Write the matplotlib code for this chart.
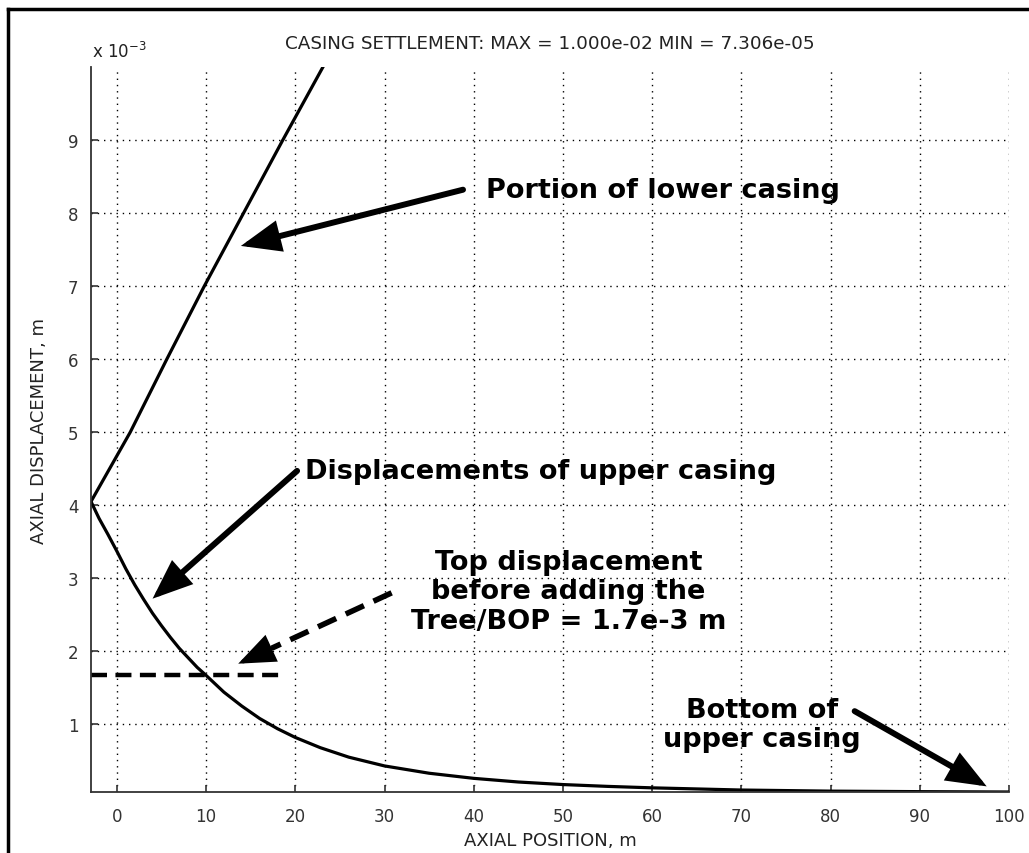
import matplotlib
matplotlib.use("Agg")
import matplotlib.pyplot as plt
from matplotlib.lines import Line2D

# ---------------- data (axial displacement in units of 1e-3 m) ----------------
upper_x = [-2.9, -2, -1, 0, 1, 2, 3, 4, 5, 6, 7, 8, 9, 10, 12, 14, 16, 18, 20,
           22.8, 26, 30, 35, 40, 45, 50, 55, 60, 70, 80, 90, 100]
upper_y = [4.05, 3.82, 3.60, 3.37, 3.13, 2.91, 2.71, 2.52, 2.35, 2.19, 2.04,
           1.91, 1.78, 1.67, 1.44, 1.25, 1.08, 0.94, 0.82, 0.68, 0.55, 0.43,
           0.33, 0.26, 0.21, 0.175, 0.15, 0.13, 0.10, 0.085, 0.078, 0.073]
lower_x = [-2.9, 1.5, 5.6, 9.8, 14.2, 18.6, 23.1]
lower_y = [4.05, 5, 6, 7, 8, 9, 10]
top_disp_x = [-2.9, 18.4]
top_disp_y = 1.67
x_ticks = [0, 10, 20, 30, 40, 50, 60, 70, 80, 90, 100]
y_ticks = [1, 2, 3, 4, 5, 6, 7, 8, 9]
x_lim = (-2.9, 100)
y_lim = (0.07306, 10.0)
title_text = "CASING SETTLEMENT: MAX = 1.000e-02 MIN = 7.306e-05"
x_label = "AXIAL POSITION, m"
y_label = "AXIAL DISPLACEMENT, m"

# annotations: (text, text_xy, ha, tail_xy, tip_xy, dashed)
notes = [
    ("Portion of lower casing", (41.4, 8.32), "left", (38.8, 8.32), (13.9, 7.55), False),
    ("Displacements of upper casing", (21.1, 4.47), "left", (20.2, 4.47), (4.0, 2.72), False),
    ("Top displacement\nbefore adding the\nTree/BOP = 1.7e-3 m", (50.6, 2.82), "center",
     (30.8, 2.80), (13.6, 1.83), True),
    ("Bottom of\nupper casing", (72.3, 1.0), "center", (82.7, 1.18), (97.5, 0.15), False),
]

W, H = 1029, 854
fig = plt.figure(figsize=(W / 100, H / 100), dpi=100)
ax = fig.add_axes([91 / W, 1 - 793 / H, (1009 - 91) / W, (793 - 68) / H])

ax.plot(upper_x, upper_y, color="k", lw=2.3, solid_joinstyle="round")
ax.plot(lower_x, lower_y, color="k", lw=2.3, solid_joinstyle="round")
ax.plot(top_disp_x, [top_disp_y] * 2, color="k", lw=3.2, dashes=(3.6, 1.9))

ax.set_xlim(*x_lim)
ax.set_ylim(*y_lim)
ax.set_xticks(x_ticks)
ax.set_yticks(y_ticks)
ax.grid(True, color="k", linestyle=(0, (1, 3.5)), lw=1.0)
ax.set_axisbelow(True)
for s in ("top", "right"):
    ax.spines[s].set_visible(False)
for s in ("left", "bottom"):
    ax.spines[s].set_color("#333333")
    ax.spines[s].set_linewidth(1.3)
ax.tick_params(direction="in", length=5, width=1.2, colors="#333333",
               labelsize=12, pad=9)
ax.tick_params(axis="x", pad=11)

ax.set_xlabel(x_label, fontsize=13, color="#222222", labelpad=4)
ax.set_ylabel(y_label, fontsize=13, color="#222222", labelpad=14)

fig.text(550 / W, 1 - 44 / H, title_text, ha="center", va="center",
         fontsize=13.2, color="#222222")
fig.text(92 / W, 1 - 58 / H, r"x 10$^{-3}$", ha="left", va="baseline",
         fontsize=12, color="#222222")

head = "-|>,head_length=1.05,head_width=0.42"
for text, txy, ha, tail, tip, dashed in notes:
    ax.text(txy[0], txy[1], text, ha=ha, va="center", fontsize=19.5,
            fontweight="bold", color="k", linespacing=1.17)
    if not dashed:
        ax.annotate("", xy=tip, xytext=tail,
                    arrowprops=dict(arrowstyle=head, mutation_scale=20, lw=4.3,
                                    color="k", shrinkA=0, shrinkB=0,
                                    joinstyle="miter"))
    else:
        f = 0.22
        mid = (tip[0] + (tail[0] - tip[0]) * f, tip[1] + (tail[1] - tip[1]) * f)
        ax.annotate("", xy=mid, xytext=tail,
                    arrowprops=dict(arrowstyle="-", lw=4.0, color="k",
                                    linestyle=(0, (3.6, 1.9)),
                                    shrinkA=0, shrinkB=0, capstyle="butt"))
        ax.annotate("", xy=tip, xytext=mid,
                    arrowprops=dict(arrowstyle=head, mutation_scale=20, lw=3.0,
                                    color="k", shrinkA=0, shrinkB=0,
                                    joinstyle="miter"))

# outer frame (top and left edges)
fig.add_artist(Line2D([8 / W, 1.0], [1 - 10 / H, 1 - 10 / H],
                      transform=fig.transFigure, color="k", lw=2.5))
fig.add_artist(Line2D([8 / W, 8 / W], [0.0, 1 - 10 / H],
                      transform=fig.transFigure, color="k", lw=2.5))

fig.savefig("out.png", dpi=100)
